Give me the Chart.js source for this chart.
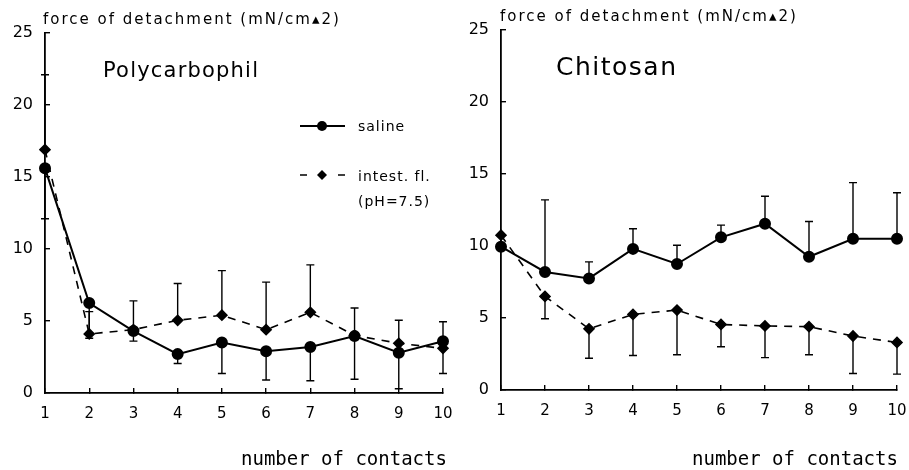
<!DOCTYPE html>
<html>
<head>
<meta charset="utf-8">
<script src="https://cdn.jsdelivr.net/npm/chart.js@4.4.0/dist/chart.umd.min.js"></script>
<style>
  body { margin: 0; background: #fff; }
  #wrap { position: relative; width: 909px; height: 470px; }
  canvas { position: absolute; top: 0; }
</style>
</head>
<body>
<div id="wrap">
  <canvas id="left" width="455" height="470" style="left:0"></canvas>
  <canvas id="right" width="454" height="470" style="left:455px"></canvas>
</div>
<script>
const contacts = [1, 2, 3, 4, 5, 6, 7, 8, 9, 10];
const yTicks = [0, 5, 10, 15, 20, 25];

// Polycarbophil
const salineP   = [15.6, 6.25, 4.3, 2.7, 3.5, 2.9, 3.2, 3.95, 2.8, 3.6];
const salinePLo = [12.1, 3.8, 3.6, 2.05, 1.35, 0.9, 0.85, 0.95, 0.3, 1.35];
const intestP   = [16.9, 4.1, 4.4, 5.05, 5.4, 4.4, 5.6, 4.0, 3.45, 3.1];
const intestPHi = [22.1, 5.65, 6.4, 7.6, 8.5, 7.7, 8.9, 5.9, 5.05, 4.95];

// Chitosan
const salineC   = [9.95, 8.2, 7.75, 9.8, 8.75, 10.6, 11.55, 9.25, 10.5, 10.5];
const salineCHi = [null, 13.2, 8.9, 11.2, 10.05, 11.45, 13.45, 11.7, 14.4, 13.7];
const intestC   = [10.75, 6.5, 4.25, 5.25, 5.55, 4.55, 4.45, 4.4, 3.75, 3.3];
const intestCLo = [null, 4.95, 2.2, 2.4, 2.45, 3.0, 2.25, 2.45, 1.15, 1.1];

const sansFont = "'DejaVu Sans', sans-serif";

// draws the one sided error bars behind the markers
const errorBars = {
  id: 'errorBars',
  beforeDatasetsDraw(chart) {
    const ctx = chart.ctx, ys = chart.scales.y;
    ctx.save();
    ctx.strokeStyle = '#000';
    ctx.lineWidth = 1.4;
    ctx.setLineDash([]);
    chart.data.datasets.forEach((ds, d) => {
      if (!ds.errorTo) return;
      const pts = chart.getDatasetMeta(d).data;
      ds.errorTo.forEach((v, i) => {
        if (v == null) return;
        const x = pts[i].x;
        const y0 = ys.getPixelForValue(ds.data[i]);
        const y1 = ys.getPixelForValue(v);
        ctx.beginPath();
        ctx.moveTo(x, y0); ctx.lineTo(x, y1);
        ctx.moveTo(x - 4, y1); ctx.lineTo(x + 4, y1);
        ctx.stroke();
      });
    });
    ctx.restore();
  }
};

// heading, panel name, x title and the legend
const labels = {
  id: 'labels',
  afterDraw(chart, args, opts) {
    const ctx = chart.ctx;
    ctx.save();
    ctx.fillStyle = '#000';
    ctx.textBaseline = 'middle';
    ctx.letterSpacing = '2px';
    ctx.font = '15px ' + sansFont;
    ctx.fillText('force of detachment (mN/cm\u25B42)', opts.head[0], opts.head[1]);
    ctx.letterSpacing = opts.nameSpacing;
    ctx.font = opts.nameSize + ' ' + sansFont;
    ctx.fillText(opts.name, opts.nameAt[0], opts.nameAt[1]);
    ctx.letterSpacing = '0px';
    ctx.font = "19px 'DejaVu Sans Mono', monospace";
    ctx.fillText('number of contacts', opts.xTitle[0], opts.xTitle[1]);
    if (opts.legend) {
      ctx.letterSpacing = '1px';
      ctx.font = '14px ' + sansFont;
      ctx.strokeStyle = '#000';
      ctx.lineWidth = 2;
      ctx.beginPath(); ctx.moveTo(300, 126); ctx.lineTo(345, 126); ctx.stroke();
      ctx.beginPath(); ctx.arc(322, 126, 5, 0, Math.PI * 2); ctx.fill();
      ctx.fillText('saline', 358, 127);
      ctx.lineWidth = 1.6;
      ctx.beginPath(); ctx.moveTo(300, 175); ctx.lineTo(307, 175);
      ctx.moveTo(338, 175); ctx.lineTo(345, 175); ctx.stroke();
      ctx.beginPath(); ctx.moveTo(322, 170); ctx.lineTo(327, 175); ctx.lineTo(322, 180); ctx.lineTo(317, 175); ctx.closePath(); ctx.fill();
      ctx.fillText('intest. fl.', 358, 177);
      ctx.fillText('(pH=7.5)', 358, 202);
    }
    ctx.restore();
  }
};

function panel(id, saline, salineErr, intest, intestErr, area, text) {
  const w = document.getElementById(id).width;
  return new Chart(document.getElementById(id), {
    type: 'line',
    data: {
      labels: contacts,
      datasets: [
        {
          label: 'saline',
          data: saline,
          errorTo: salineErr,
          borderColor: '#000',
          backgroundColor: '#000',
          borderWidth: 2,
          pointStyle: 'circle',
          pointRadius: 5,
          clip: false
        },
        {
          label: 'intest. fl. (pH=7.5)',
          data: intest,
          errorTo: intestErr,
          borderColor: '#000',
          backgroundColor: '#000',
          borderWidth: 1.6,
          borderDash: [8, 7],
          pointStyle: 'rectRot',
          pointRadius: 5,
          clip: false
        }
      ]
    },
    options: {
      responsive: false,
      animation: false,
      layout: { padding: { top: area.top, right: w - area.right, left: 0, bottom: 0 } },
      plugins: {
        legend: { display: false },
        tooltip: { enabled: false },
        labels: text
      },
      scales: {
        x: {
          grid: { drawOnChartArea: false, tickLength: -5, color: '#000', lineWidth: 1.4 },
          border: { color: '#000', width: 1.8 },
          ticks: { color: '#000', padding: 17, maxRotation: 0, font: { family: sansFont, size: 15 } },
          afterFit(scale) {
            scale.height = 470 - area.bottom;
            scale.paddingLeft = 0;
            scale.paddingRight = 0;
          }
        },
        y: {
          min: 0,
          max: 25,
          afterBuildTicks(scale) { scale.ticks = yTicks.map(v => ({ value: v })); },
          grid: { drawOnChartArea: false, tickLength: -5, color: '#000', lineWidth: 1.4 },
          border: { color: '#000', width: 1.8 },
          ticks: { color: '#000', padding: 17, font: { family: sansFont, size: 16 } },
          afterFit(scale) {
            scale.width = area.left;
            scale.paddingTop = 0;
            scale.paddingBottom = 0;
          }
        }
      }
    },
    plugins: [errorBars, labels]
  });
}

panel('left', salineP, salinePLo, intestP, intestPHi,
  { left: 45, right: 443, top: 33, bottom: 393 },
  { head: [43, 20], name: 'Polycarbophil', nameAt: [103, 72], nameSize: '21px', nameSpacing: '1.2px',
    xTitle: [241, 460], legend: true });

panel('right', salineC, salineCHi, intestC, intestCLo,
  { left: 46, right: 442, top: 30, bottom: 390 },
  { head: [45, 17], name: 'Chitosan', nameAt: [101, 68], nameSize: '25px', nameSpacing: '1.5px',
    xTitle: [237, 460], legend: false });
</script>
</body>
</html>
